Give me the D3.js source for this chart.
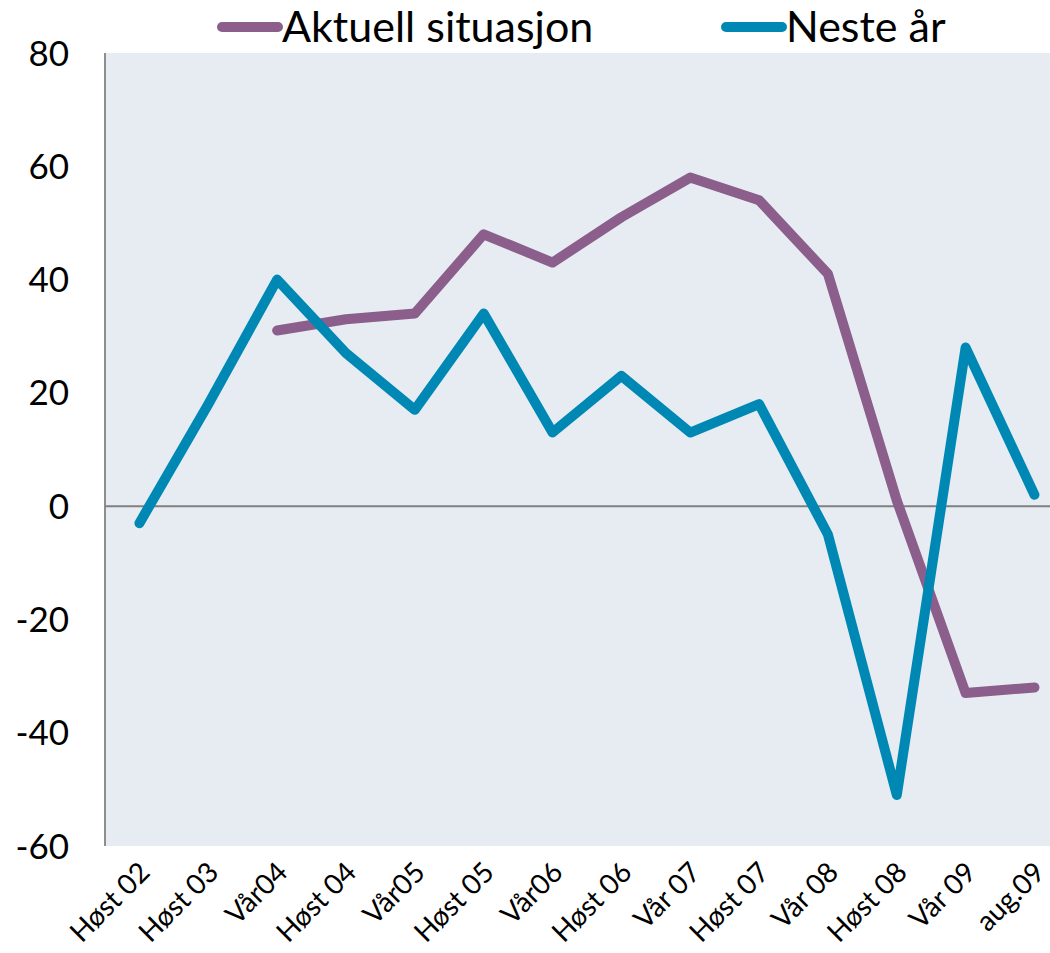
<!DOCTYPE html>
<html>
<head>
<meta charset="utf-8">
<script src="https://cdn.jsdelivr.net/npm/d3@7"></script>
<style>
  html, body { margin: 0; padding: 0; background: #fff; }
  svg { display: block; font-family: Lato, "Open Sans", sans-serif; }
</style>
</head>
<body>
<svg id="chart" width="1050" height="953"></svg>
<script>
const categories = ["Høst 02","Høst 03","Vår04","Høst 04","Vår05","Høst 05","Vår06","Høst 06","Vår 07","Høst 07","Vår 08","Høst 08","Vår 09","aug.09"];
const aktuellSituasjon = [null, null, 31, 33, 34, 48, 43, 51, 58, 54, 41, 1, -33, -32];
const nesteAr = [-3, 18, 40, 27, 17, 34, 13, 23, 13, 18, -5, -51, 28, 2];
const yTicks = [80, 60, 40, 20, 0, -20, -40, -60];
const seriesNames = ["Aktuell situasjon", "Neste år"];
const seriesColors = ["#8b5e8c", "#0088b5"];

(function () {
const svg = d3.select("#chart");
const plotLeft = 105, plotTop = 53, plotBottom = 846;
const step = 68.85;
const x = d3.scaleBand().domain(categories).range([plotLeft, plotLeft + step * categories.length]).padding(0);
const y = d3.scaleLinear().domain([-60, 80]).range([plotBottom, plotTop]);
const cx = c => x(c) + x.bandwidth() / 2;

svg.append("rect").attr("x", plotLeft).attr("y", plotTop)
  .attr("width", 1050 - plotLeft).attr("height", plotBottom - plotTop)
  .attr("fill", "#e7ecf3");

svg.append("line").attr("x1", plotLeft).attr("x2", plotLeft).attr("y1", plotTop).attr("y2", plotBottom)
  .attr("stroke", "#8e8e8e").attr("stroke-width", 2);

svg.append("line").attr("x1", plotLeft).attr("x2", 1050).attr("y1", y(0)).attr("y2", y(0))
  .attr("stroke", "#808080").attr("stroke-width", 2);

svg.append("g").selectAll("text").data(yTicks).join("text")
  .attr("x", 69).attr("y", d => y(d)).attr("dy", "0.36em")
  .attr("text-anchor", "end").attr("font-size", 35).attr("fill", "#000")
  .text(d => d);

svg.append("g").selectAll("text").data(categories).join("text")
  .attr("text-anchor", "end").attr("font-size", 28).attr("fill", "#000")
  .attr("transform", d => `translate(${cx(d) + 12},${874}) rotate(-45)`)
  .text(d => d);

const data = [aktuellSituasjon, nesteAr];
const line = d3.line().defined(d => d.v !== null).x(d => cx(d.c)).y(d => y(d.v));
data.forEach((vals, i) => {
  const pts = categories.map((c, j) => ({ c, v: vals[j] }));
  svg.append("path").datum(pts).attr("d", line)
    .attr("fill", "none").attr("stroke", seriesColors[i])
    .attr("stroke-width", 10).attr("stroke-linecap", "round").attr("stroke-linejoin", "round");
});

const legendX = [222, 726];
seriesNames.forEach((name, i) => {
  svg.append("line").attr("x1", legendX[i]).attr("x2", legendX[i] + 56)
    .attr("y1", 27).attr("y2", 27)
    .attr("stroke", seriesColors[i]).attr("stroke-width", 10).attr("stroke-linecap", "round");
  svg.append("text").attr("x", legendX[i] + 60).attr("y", 27).attr("dy", "0.36em")
    .attr("font-size", 43).attr("fill", "#000").text(name);
});
})();
</script>
</body>
</html>
